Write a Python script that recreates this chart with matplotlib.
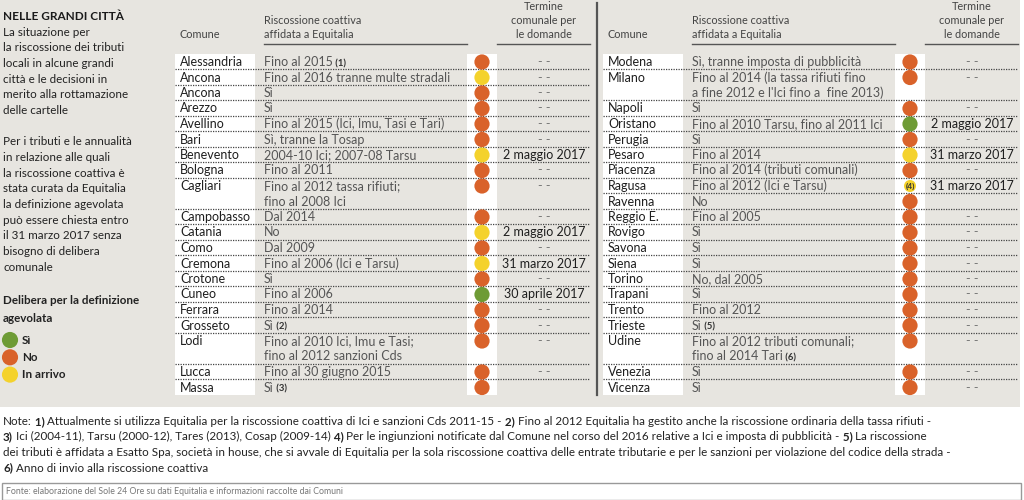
import re
import matplotlib
matplotlib.use("Agg")
import matplotlib.pyplot as plt
from matplotlib.patches import Rectangle

plt.rcParams["font.family"] = ["Lato", "DejaVu Sans"]

# ---- data -------------------------------------------------------------
left_comuni = ["Alessandria", "Ancona", "Ancona", "Arezzo", "Avellino", "Bari",
               "Benevento", "Bologna", "Cagliari", "Campobasso", "Catania", "Como",
               "Cremona", "Crotone", "Cuneo", "Ferrara", "Grosseto", "Lodi",
               "Lucca", "Massa"]
left_riscossione = ["Fino al 2015 (1)", "Fino al 2016 tranne multe stradali", "Sì", "Sì",
                    "Fino al 2015 (Ici, Imu, Tasi e Tari)", "Sì, tranne la Tosap",
                    "2004-10 Ici; 2007-08 Tarsu", "Fino al 2011",
                    "Fino al 2012 tassa rifiuti;\nfino al 2008 Ici", "Dal 2014", "No",
                    "Dal 2009", "Fino al 2006 (Ici e Tarsu)", "Sì", "Fino al 2006",
                    "Fino al 2014", "Sì (2)",
                    "Fino al 2010 Ici, Imu e Tasi;\nfino al 2012 sanzioni Cds",
                    "Fino al 30 giugno 2015", "Sì (3)"]
left_delibera = ["No", "In arrivo", "No", "No", "No", "No", "In arrivo", "No", "No", "No",
                 "In arrivo", "No", "In arrivo", "No", "Sì", "No", "No", "No", "No", "No"]
left_termine = ["- -", "- -", "- -", "- -", "- -", "- -", "2 maggio 2017", "- -", "- -",
                "- -", "2 maggio 2017", "- -", "31 marzo 2017", "- -", "30 aprile 2017",
                "- -", "- -", "- -", "- -", ""]

right_comuni = ["Modena", "Milano", "Napoli", "Oristano", "Perugia", "Pesaro", "Piacenza",
                "Ragusa", "Ravenna", "Reggio E.", "Rovigo", "Savona", "Siena", "Torino",
                "Trapani", "Trento", "Trieste", "Udine", "Venezia", "Vicenza"]
right_riscossione = ["Sì, tranne imposta di pubblicità",
                     "Fino al 2014 (la tassa rifiuti fino\na fine 2012 e l'Ici fino a  fine 2013)",
                     "Sì", "Fino al 2010 Tarsu, fino al 2011 Ici", "Sì", "Fino al 2014",
                     "Fino al 2014 (tributi comunali)", "Fino al 2012 (Ici e Tarsu)", "No",
                     "Fino al 2005", "Sì", "Sì", "Sì", "No, dal 2005", "Sì", "Fino al 2012",
                     "Sì (5)", "Fino al 2012 tributi comunali;\nfino al 2014 Tari (6)", "Sì", "Sì"]
right_delibera = ["No", "No", "No", "Sì", "No", "In arrivo", "No", "In arrivo", "No", "No",
                  "No", "No", "No", "No", "No", "No", "No", "No", "No", "No"]
right_termine = ["- -", "- -", "- -", "2 maggio 2017", "- -", "31 marzo 2017", "- -",
                 "31 marzo 2017", "", "- -", "- -", "- -", "- -", "- -", "- -", "- -",
                 "- -", "- -", "- -", "- -"]
right_dot_note = {"Ragusa": "(4)"}

delibera_colors = {"Sì": "#6e9b35", "No": "#d9622a", "In arrivo": "#f4d22c"}

intro_lines = ["La situazione per", "la riscossione dei tributi", "locali in alcune grandi",
               "città e le decisioni in", "merito alla rottamazione", "delle cartelle", "",
               "Per i tributi e le annualità", "in relazione alle quali",
               "la riscossione coattiva è", "stata curata da Equitalia",
               "la definizione agevolata", "può essere chiesta entro",
               "il 31 marzo 2017 senza", "bisogno di delibera", "comunale"]

note_lines = [
    [("Note:", False), (" 1)", True),
     (" Attualmente si utilizza Equitalia per la riscossione coattiva di Ici e sanzioni Cds 2011-15 -", False),
     (" 2)", True), (" Fino al 2012 Equitalia ha gestito anche la riscossione ordinaria della tassa rifiuti -", False)],
    [("3)", True), (" Ici (2004-11), Tarsu (2000-12), Tares (2013), Cosap (2009-14)", False),
     (" 4)", True), (" Per le ingiunzioni notificate dal Comune nel corso del 2016 relative a Ici e imposta di pubblicità -", False),
     (" 5)", True), (" La riscossione", False)],
    [("dei tributi è affidata a Esatto Spa, società in house, che si avvale di Equitalia per la sola riscossione coattiva delle entrate tributarie e per le sanzioni per violazione del codice della strada -", False)],
    [("6)", True), (" Anno di invio alla riscossione coattiva", False)],
]
fonte = "Fonte: elaborazione del Sole 24 Ore su dati Equitalia e informazioni raccolte dai Comuni"

# ---- figure -----------------------------------------------------------
BG = "#e7e5e0"
fig = plt.figure(figsize=(10.24, 5), dpi=100)
ax = fig.add_axes([0, 0, 1, 1])
ax.set_xlim(0, 1024)
ax.set_ylim(500, 0)
ax.axis("off")
renderer = fig.canvas.get_renderer()

ax.add_patch(Rectangle((0, 0), 1020, 407, facecolor=BG, edgecolor="none", zorder=0))


def rich(x, y, parts, size, color, bold_color=None, bold_size=None):
    for txt, bold in parts:
        t = ax.text(x, y, txt, fontsize=bold_size if (bold and bold_size) else size,
                    color=(bold_color or color) if bold else color,
                    fontweight="bold" if bold else "normal", va="baseline", ha="left", zorder=5)
        x += t.get_window_extent(renderer).width


# left text panel
ax.text(3, 17, "NELLE GRANDI CITTÀ", fontsize=8.5, fontweight="bold", color="#1a1a1a",
        va="center", ha="left")
for i, line in enumerate(intro_lines):
    ax.text(3, 32 + i * 15.67, line, fontsize=8.4, color="#222", va="center", ha="left")
ax.text(3, 301, "Delibera per la definizione", fontsize=8.4, fontweight="bold", color="#222",
        va="center")
ax.text(3, 318, "agevolata", fontsize=8.4, fontweight="bold", color="#222", va="center")
for i, lab in enumerate(["Sì", "No", "In arrivo"]):
    ax.scatter(10, 340 + i * 17.3, s=135, color=delibera_colors[lab], edgecolor="none", zorder=5)
    ax.text(22, 340 + i * 17.3, lab, fontsize=8.4, fontweight="bold", color="#222", va="center")

LINE_H = 15.5
FIRST = 62


def draw_table(x0, comuni, riscossione, delibera, termine, dot_notes):
    # headers
    ax.text(x0 + 5, 34, "Comune", fontsize=7.8, color="#444", va="center")
    ax.text(x0 + 89, 20, "Riscossione coattiva", fontsize=7.8, color="#444", va="center")
    ax.text(x0 + 89, 34, "affidata a Equitalia", fontsize=7.8, color="#444", va="center")
    ax.plot([x0 + 89, x0 + 292], [44, 44], color="#555", lw=1)
    for j, h in enumerate(["Termine", "comunale per", "le domande"]):
        ax.text(x0 + 369, 6 + j * 14, h, fontsize=7.8, color="#444", va="center", ha="center")
    ax.plot([x0 + 322, x0 + 415], [44, 44], color="#555", lw=1)

    nlines = [r.count("\n") + 1 for r in riscossione]
    top = FIRST - LINE_H / 2
    bottom = top + sum(nlines) * LINE_H
    ax.add_patch(Rectangle((x0, top), 80, bottom - top, facecolor="white", edgecolor="none", zorder=1))
    ax.add_patch(Rectangle((x0 + 292, top), 30, bottom - top, facecolor="white", edgecolor="none", zorder=1))

    y = FIRST
    for k, (c, r, d, t, n) in enumerate(zip(comuni, riscossione, delibera, termine, nlines)):
        if k > 0:
            ax.plot([x0, x0 + 415], [y - LINE_H / 2 - 0.3] * 2, color="#444", lw=0.9,
                    ls=(0, (1, 1)), zorder=2)
        base = y + 4
        ax.text(x0 + 5, base, c, fontsize=9, color="#1e1e1e", va="baseline", zorder=5)
        for li, seg in enumerate(r.split("\n")):
            m = re.match(r"^(.*?)( \(\d\))$", seg)
            parts = [(m.group(1), False), (m.group(2), True)] if m else [(seg, False)]
            rich(x0 + 89, base + li * LINE_H, parts, 9, "#555", bold_color="#333", bold_size=6.8)
        if c in dot_notes:
            ax.scatter(x0 + 307, y, s=75, color=delibera_colors[d], edgecolor="none", zorder=4)
            ax.text(x0 + 307, y + 0.5, dot_notes[c], fontsize=6, fontweight="bold", color="#333",
                    ha="center", va="center", zorder=6)
        else:
            ax.scatter(x0 + 307, y, s=120, color=delibera_colors[d], edgecolor="none", zorder=4)
        if t:
            ax.text(x0 + 369, base, t, fontsize=9, ha="center", va="baseline", zorder=5,
                    color="#777" if t == "- -" else "#1e1e1e")
        y += n * LINE_H


draw_table(175, left_comuni, left_riscossione, left_delibera, left_termine, {})
draw_table(603, right_comuni, right_riscossione, right_delibera, right_termine, right_dot_note)

ax.plot([597, 597], [3, 395], color="#555", lw=1.6)

# notes
for i, parts in enumerate(note_lines):
    rich(3, 425 + i * 15.5, parts, 8.4, "#222")

ax.add_patch(Rectangle((2, 483), 1019, 17, facecolor="white", edgecolor="#999", lw=1))
ax.text(6, 492, fonte, fontsize=6.3, color="#777", va="center")

fig.savefig("out.png", dpi=100, facecolor="white")
